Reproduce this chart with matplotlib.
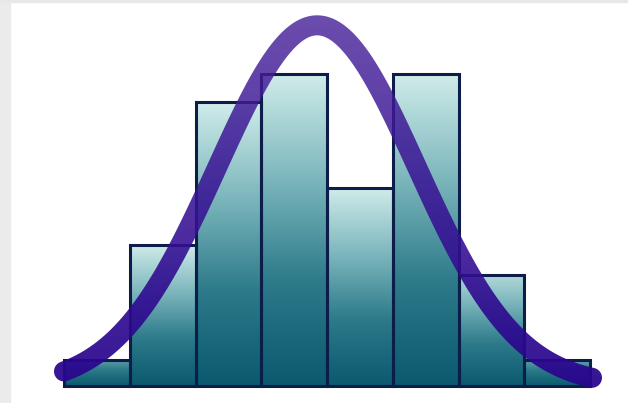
import numpy as np
import matplotlib
matplotlib.use("Agg")
import matplotlib.pyplot as plt
from matplotlib.colors import LinearSegmentedColormap, to_rgb
from matplotlib.patches import Polygon, Rectangle

# histogram bins (unit width) and bar heights
bin_edges = [0, 1, 2, 3, 4, 5, 6, 7, 8]
bar_heights = [0.92, 4.97, 10.0, 11.0, 6.98, 11.0, 3.91, 0.9]

# fitted normal curve drawn over the histogram
curve_mu = 3.85
curve_sigma = 1.52
curve_peak = 12.7
curve_start, curve_end = 0.0, 8.03

W, H, DPI = 628, 403, 100
fig = plt.figure(figsize=(W / DPI, H / DPI), dpi=DPI)
fig.patch.set_facecolor("white")
ax = fig.add_axes([0, 0, 1, 1])
ax.axis("off")

# 1 bin = 65.75 px, 1 count = 28.4 px, origin at px (64, 386 from top)
XL = (-64 / 65.75, (W - 64) / 65.75)
YL = (-(H - 386) / 28.4, 386 / 28.4)
ax.set_xlim(*XL)
ax.set_ylim(*YL)

# grey frame bits from the screenshot
fig.patches.append(Rectangle((0, 0), 10 / W, 1, transform=fig.transFigure,
                             color="#ebebeb", zorder=0))
fig.patches.append(Rectangle((0, 1 - 2 / H), 1, 2 / H, transform=fig.transFigure,
                             color="#e8e8e8", zorder=0))

# gradient filled bars
bar_cmap = LinearSegmentedColormap.from_list(
    "teal", ["#0a596d", "#2c7a8a", "#7db7bd", "#d0ecea"])
grad = np.linspace(0, 1, 256).reshape(-1, 1)
for left, h in zip(bin_edges[:-1], bar_heights):
    top = min(1.0, 0.45 + 0.55 * h / 5.0)
    ax.imshow(grad * top, extent=[left, left + 1, 0, h], origin="lower",
              cmap=bar_cmap, vmin=0, vmax=1, aspect="auto", zorder=1,
              interpolation="bilinear")
ax.bar(bin_edges[:-1], bar_heights, width=1, align="edge", fill=False,
       edgecolor="#0b1d48", linewidth=2.2, zorder=2)

# normal curve as a thick stroke with a vertical colour gradient
xs = np.linspace(curve_start, curve_end, 400)
ys = curve_peak * np.exp(-0.5 * ((xs - curve_mu) / curve_sigma) ** 2)
P = ax.transData.transform(np.column_stack([xs, ys]))
t = np.gradient(P, axis=0)
t /= np.linalg.norm(t, axis=1, keepdims=True)
n = np.column_stack([-t[:, 1], t[:, 0]])
half = 10.0
left_side = P + n * half
right_side = P - n * half
arc = np.linspace(0, np.pi, 30)
ang0 = np.arctan2(n[-1, 1], n[-1, 0])
end_cap = P[-1] + half * np.column_stack([np.cos(ang0 - arc), np.sin(ang0 - arc)])
ang1 = np.arctan2(-n[0, 1], -n[0, 0])
start_cap = P[0] + half * np.column_stack([np.cos(ang1 - arc), np.sin(ang1 - arc)])
outline = np.vstack([left_side, end_cap, right_side[::-1], start_cap])
outline = ax.transData.inverted().transform(outline)
stroke = Polygon(outline, closed=True, transform=ax.transData,
                 facecolor="none", edgecolor="none")
ax.add_patch(stroke)

c_bot = np.array(to_rgb("#28048e"))
c_top = np.array(to_rgb("#48229a"))
f = np.linspace(0, 1, 256)[:, None]
rgba = np.zeros((256, 1, 4))
rgba[:, 0, :3] = c_bot * (1 - f) + c_top * f
rgba[:, 0, 3] = (0.95 * (1 - f) + 0.8 * f)[:, 0]
im = ax.imshow(rgba, extent=[XL[0], XL[1], YL[0], YL[1]],
               origin="lower", aspect="auto", zorder=3, interpolation="bilinear")
im.set_clip_path(stroke)

ax.set_xlim(*XL)
ax.set_ylim(*YL)
fig.savefig("out.png", dpi=DPI)
